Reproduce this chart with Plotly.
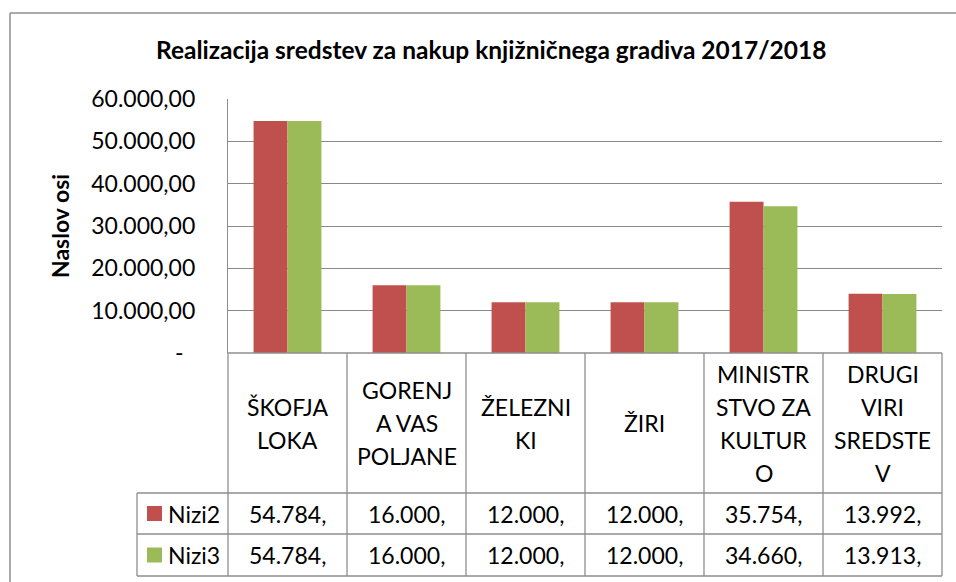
import plotly.graph_objects as go

# ---------------- data ----------------
categories = ["ŠKOFJA LOKA", "GORENJA VAS POLJANE", "ŽELEZNIKI", "ŽIRI",
              "MINISTRSTVO ZA KULTURO", "DRUGI VIRI SREDSTEV"]
category_lines = [["ŠKOFJA", "LOKA"], ["GORENJ", "A VAS", "POLJANE"], ["ŽELEZNI", "KI"],
                  ["ŽIRI"], ["MINISTR", "STVO ZA", "KULTUR", "O"], ["DRUGI", "VIRI", "SREDSTE", "V"]]
series_names = ["Nizi2", "Nizi3"]
nizi2 = [54784, 16000, 12000, 12000, 35754, 13992]
nizi3 = [54784, 16000, 12000, 12000, 34660, 13913]
y_ticks = [0, 10000, 20000, 30000, 40000, 50000, 60000]
title_text = "Realizacija sredstev za nakup knjižničnega gradiva 2017/2018"
y_title = "Naslov osi"

# ---------------- style ----------------
FONT = "Lato"
RED = "#C0504D"
GREEN = "#9BBB59"
GRID = "#898989"
LINE = "#8E8E8E"
colors = [RED, GREEN]
series = [nizi2, nizi3]
TABLE_FS = 23

W, H = 956, 582
L, R, T, B = 228, 942, 99, 353


def fx(px):
    return (px - L) / (R - L)


def fy(py):
    return (B - py) / (B - T)


def tick_label(v):
    if v == 0:
        return "-\u00a0\u00a0"
    return f"{v:,.2f}".replace(",", "X").replace(".", ",").replace("X", ".")


def table_value(v):
    return f"{v:,}".replace(",", ".") + ","


fig = go.Figure()
for name, vals, col in zip(series_names, series, colors):
    fig.add_trace(go.Bar(x=categories, y=vals, name=name, marker=dict(color=col, line=dict(width=0))))

shapes = []
annotations = []

# outer chart border (left and top visible)
shapes.append(dict(type="line", xref="paper", yref="paper", x0=fx(10), x1=fx(10), y0=fy(13), y1=fy(600),
                   line=dict(color=LINE, width=1.5)))
shapes.append(dict(type="line", xref="paper", yref="paper", x0=fx(10), x1=fx(970), y0=fy(13), y1=fy(13),
                   line=dict(color=LINE, width=1.5)))

# data table grid
rows = [353, 493, 534, 576]
legend_left = 137
shapes.append(dict(type="line", xref="paper", yref="paper", x0=0, x1=1, y0=fy(rows[0]), y1=fy(rows[0]),
                   line=dict(color=LINE, width=1.3)))
for r in rows[1:]:
    shapes.append(dict(type="line", xref="paper", yref="paper", x0=fx(legend_left), x1=1, y0=fy(r), y1=fy(r),
                       line=dict(color=LINE, width=1.3)))
n = len(categories)
for k in range(n + 1):
    shapes.append(dict(type="line", xref="paper", yref="paper", x0=k / n, x1=k / n, y0=fy(rows[0]), y1=fy(rows[-1]),
                       line=dict(color=LINE, width=1.3)))
shapes.append(dict(type="line", xref="paper", yref="paper", x0=fx(legend_left), x1=fx(legend_left),
                   y0=fy(rows[1]), y1=fy(rows[-1]), line=dict(color=LINE, width=1.3)))

# category labels in table
lh = 33
cat_center = (rows[0] + rows[1]) / 2
for cat, lines in zip(categories, category_lines):
    m = len(lines)
    for j, txt in enumerate(lines):
        yc = cat_center + (j - (m - 1) / 2) * lh
        annotations.append(dict(x=cat, xref="x", y=fy(yc), yref="paper", text=txt, showarrow=False,
                                xanchor="center", yanchor="middle",
                                font=dict(family=FONT, size=TABLE_FS, color="black")))

# value rows + legend keys
for i, (name, vals, col) in enumerate(zip(series_names, series, colors)):
    top, bot = rows[i + 1], rows[i + 2]
    yc = (top + bot) / 2
    for cat, v in zip(categories, vals):
        annotations.append(dict(x=cat, xref="x", y=fy(yc), yref="paper", text=table_value(v), showarrow=False,
                                xanchor="center", yanchor="middle",
                                font=dict(family=FONT, size=TABLE_FS, color="black")))
    shapes.append(dict(type="rect", xref="paper", yref="paper", x0=fx(147), x1=fx(162), y0=fy(yc - 7.5),
                       y1=fy(yc + 7.5), fillcolor=col, line=dict(width=0)))
    annotations.append(dict(x=fx(166), xref="paper", y=fy(yc), yref="paper", text=name, showarrow=False,
                            xanchor="left", yanchor="middle",
                            font=dict(family=FONT, size=TABLE_FS, color="black")))

# title and y-axis title
annotations.append(dict(x=fx(491), xref="paper", y=fy(50), yref="paper", text="<b>" + title_text + "</b>",
                        showarrow=False, xanchor="center", yanchor="middle",
                        font=dict(family=FONT, size=24.5, color="black")))
annotations.append(dict(x=fx(60), xref="paper", y=0.5, yref="paper", text="<b>" + y_title + "</b>",
                        showarrow=False, textangle=-90, xanchor="center", yanchor="middle",
                        font=dict(family=FONT, size=23, color="black")))

fig.update_layout(
    width=W, height=H,
    margin=dict(l=L, r=W - R, t=T, b=H - B),
    paper_bgcolor="white", plot_bgcolor="white",
    barmode="group", bargap=0.43, bargroupgap=0,
    showlegend=False,
    shapes=shapes, annotations=annotations,
    font=dict(family=FONT, color="black"),
)
fig.update_xaxes(showticklabels=False, ticks="", showgrid=False, zeroline=False, showline=False)
fig.update_yaxes(range=[0, 60000], tickvals=y_ticks, ticktext=[tick_label(v) for v in y_ticks],
                 showgrid=True, gridcolor=GRID, gridwidth=1.2, zeroline=False,
                 showline=True, linecolor=LINE, linewidth=1.3, ticks="",
                 ticklabelstandoff=27, tickfont=dict(family=FONT, size=23, color="black"))

fig.write_html("out.html", config={"displayModeBar": False},
               post_script="document.body.style.margin='0';")
